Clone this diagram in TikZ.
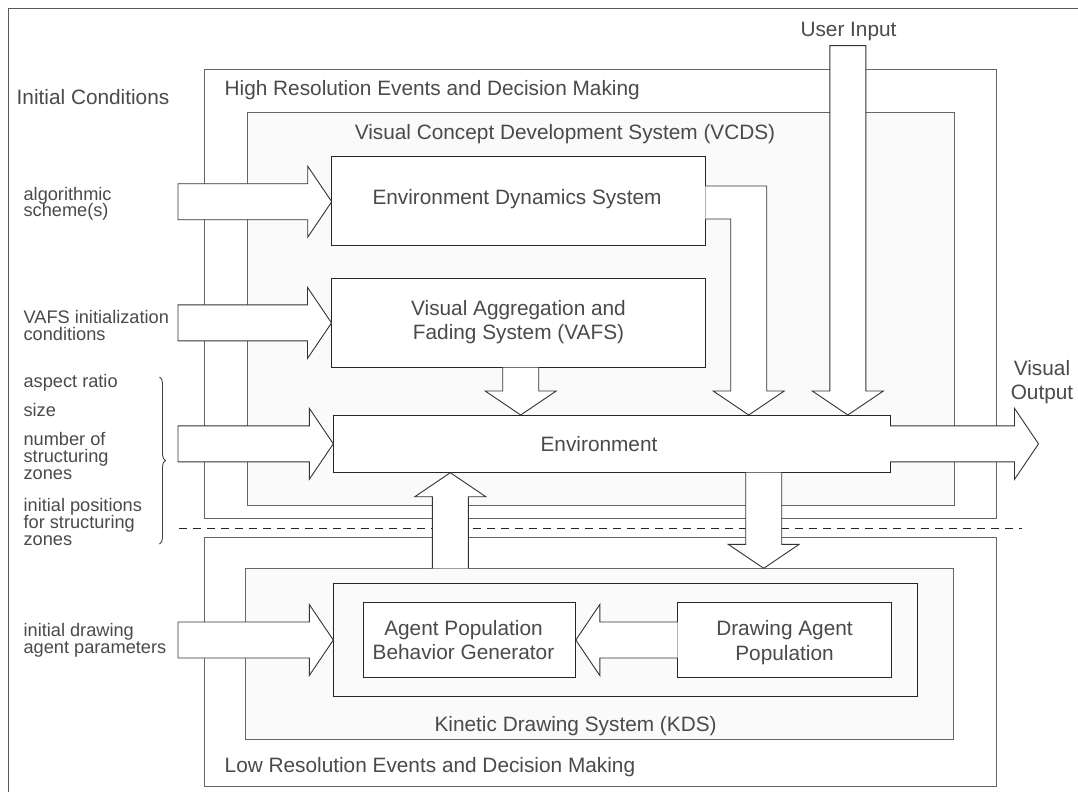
\documentclass[tikz,border=0pt]{standalone}
\usepackage{fontspec}
\setmainfont{Liberation Sans}
\usetikzlibrary{calc,decorations.pathreplacing}
\definecolor{panel}{HTML}{FAFAFA}
\definecolor{txt}{HTML}{4A4A4A}
\newcommand\arrR[3]{\filldraw[blk] let \p1=(#1), \p2=(#2) in (\x1,\y1+18pt) -- (\x2-24pt,\y1+18pt) -- (\x2-24pt,\y1+35.5pt) -- (\x2,\y1) -- (\x2-24pt,\y1-35.5pt) -- (\x2-24pt,\y1-18pt) -- (\x1,\y1-18pt) #3;}
\newcommand\arrL[2]{\filldraw[blk] let \p1=(#1), \p2=(#2) in (\x1,\y1+18pt) -- (\x2+24pt,\y1+18pt) -- (\x2+24pt,\y1+35.5pt) -- (\x2,\y1) -- (\x2+24pt,\y1-35.5pt) -- (\x2+24pt,\y1-18pt) -- (\x1,\y1-18pt);}
\newcommand\arrD[3]{\filldraw[blk] let \p1=(#1), \p2=(#2) in (\x1-18pt,\y1) -- (\x1-18pt,\y2+24pt) -- (\x1-35.5pt,\y2+24pt) -- (\x1,\y2) -- (\x1+35.5pt,\y2+24pt) -- (\x1+18pt,\y2+24pt) -- (\x1+18pt,\y1) #3;}
\newcommand\arrU[2]{\filldraw[blk] let \p1=(#1), \p2=(#2) in (\x1-18pt,\y1) -- (\x1-18pt,\y2-24pt) -- (\x1-35.5pt,\y2-24pt) -- (\x1,\y2) -- (\x1+35.5pt,\y2-24pt) -- (\x1+18pt,\y2-24pt) -- (\x1+18pt,\y1);}
\begin{document}
\begin{tikzpicture}[x=1pt,y=-1pt,
  cont/.style={draw=black!60, line width=1pt, anchor=north west, inner sep=0pt, outer sep=0pt},
  inbox/.style={draw=black!85, line width=1pt, fill=white, anchor=north west, inner sep=0pt, outer sep=0pt},
  blk/.style={draw=black!80, line width=0.9pt, fill=white, line join=miter},
  ttl/.style={font=\fontsize{20.8}{24}\selectfont, text=txt, inner sep=0pt, anchor=base},
  ttlw/.style={ttl, anchor=base west},
  lbl/.style={font=\fontsize{18.2}{17}\selectfont, text=txt, inner sep=0pt, anchor=base west},
  dashline/.style={draw=black!85, line width=0.9pt, dash pattern=on 8pt off 6pt}
]
\useasboundingbox (0,0) rectangle (1078,792);
\fill[white] (0,0) rectangle (1078,792);
% outer frame
\coordinate (fa) at (8,9);
\coordinate (fb) at (1078,9);
\coordinate (fc) at (8,792);
\draw[black!65, line width=1pt] (fb) -- (fa) -- (fc);
% containers
\node[cont, fill=white, minimum width=792pt, minimum height=449.3pt] (hires) at (204,69) {};
\node[cont, fill=white, minimum width=791.8pt, minimum height=248.5pt] (lores) at (204.2,537.5) {};
\node[cont, fill=panel, minimum width=706.3pt, minimum height=393.4pt] (vcds) at (247.7,112.3) {};
\node[cont, fill=panel, minimum width=707.5pt, minimum height=170.7pt] (kds) at (245.5,568.3) {};
% boxes
\node[inbox, minimum width=373.6pt, minimum height=89pt] (eds) at (331.7,156.7) {};
\node[inbox, minimum width=373.8pt, minimum height=89.2pt] (vafs) at (331.5,278.3) {};
\node[inbox, minimum width=556.7pt, minimum height=57.7pt] (env) at (333.3,415) {};
\node[inbox, fill=panel, minimum width=583.7pt, minimum height=113.4pt] (kdsin) at (333.3,583.3) {};
\node[inbox, minimum width=212.5pt, minimum height=75.4pt] (apbg) at (363.3,602.3) {};
\node[inbox, minimum width=213.5pt, minimum height=75.4pt] (dap) at (677.7,602.3) {};
% dashed separator
\coordinate (dl) at (179,528.3);
\coordinate (dr) at (1022,528.3);
\draw[dashline] (dl) -- (dr);
% input arrows from the left
\coordinate (inA) at (178,201.7);
\coordinate (inB) at (178,322.9);
\coordinate (inC) at (178,443.8);
\coordinate (inD) at (178,640);
\arrR{inA}{eds.west}{-- cycle}
\arrR{inB}{vafs.west}{-- cycle}
\arrR{inC}{env.west}{-- cycle}
\arrR{inD}{kdsin.west}{-- cycle}
% VAFS -> Environment
\arrD{$(vafs.south)+(2.3,0)$}{env.north}{}
% EDS -> Environment (elbow)
\coordinate (etip) at (748.7,415);
\filldraw[blk] let \p1=(eds.east), \p2=(etip) in (\x1,-186pt) -- (\x2+18pt,-186pt) -- (\x2+18pt,\y2+24pt) -- (\x2+35.5pt,\y2+24pt) -- (\x2,\y2) -- (\x2-35.5pt,\y2+24pt) -- (\x2-18pt,\y2+24pt) -- (\x2-18pt,-219pt) -- (\x1,-219pt);
% User input
\coordinate (uin) at (847.8,45.7);
\arrD{uin}{env.north}{-- cycle}
% KDS -> Environment
\arrU{$(kds.north west)+(204.8,0)$}{env.south}
% Environment -> KDS
\arrD{$(env.south west)+(430.4,0)$}{kds.north}{}
% Visual output
\coordinate (outtip) at (1038.5,443.8);
\arrR{env.east}{outtip}{}
% Drawing agent population -> behavior generator
\arrL{dap.west}{apbg.east}
% brace
\coordinate (bt) at (159.5,377);
\coordinate (bb) at (159.5,544);
\draw[black!75, line width=0.9pt, decorate, decoration={brace, amplitude=6pt}] (bt) -- (bb);
% titles
\node[ttlw] (tic) at (16.5,104) {Initial Conditions};
\node[ttlw] (thr) at (224.5,95) {High Resolution Events and Decision Making};
\node[ttl] (tvc) at (565,139) {Visual Concept Development System (VCDS)};
\node[ttl] (tui) at (848.5,37) {User Input};
\node[ttl] (teds) at (517,204.3) {Environment Dynamics System};
\node[ttl] (tva1) at (518.5,315) {Visual Aggregation and};
\node[ttl] (tva2) at (518.5,339.3) {Fading System (VAFS)};
\node[ttl] (tenv) at (599,451.7) {Environment};
\node[ttl] (tap1) at (463.5,635) {Agent Population};
\node[ttl] (tap2) at (463.5,659.3) {Behavior Generator};
\node[ttl] (tda1) at (784.5,635) {Drawing Agent};
\node[ttl] (tda2) at (784.5,660) {Population};
\node[ttl] (tkds) at (575.6,731.7) {Kinetic Drawing System (KDS)};
\node[ttlw] (tlr) at (224.5,772.7) {Low Resolution Events and Decision Making};
\node[ttl] (tvo1) at (1042,375) {Visual};
\node[ttl] (tvo2) at (1042,399.3) {Output};
% left labels
\node[lbl] (la1) at (23.4,200) {algorithmic};
\node[lbl] (la2) at (23.4,216.7) {scheme(s)};
\node[lbl] (lb1) at (23.4,323.3) {VAFS initialization};
\node[lbl] (lb2) at (23.4,340) {conditions};
\node[lbl] (lc1) at (23.4,387) {aspect ratio};
\node[lbl] (lc2) at (23.4,416) {size};
\node[lbl] (lc3) at (23.4,445) {number of};
\node[lbl] (lc4) at (23.4,462) {structuring};
\node[lbl] (lc5) at (23.4,479.3) {zones};
\node[lbl] (lc6) at (23.4,511) {initial positions};
\node[lbl] (lc7) at (23.4,528) {for structuring};
\node[lbl] (lc8) at (23.4,545) {zones};
\node[lbl] (ld1) at (23.4,636.7) {initial drawing};
\node[lbl] (ld2) at (23.4,653.3) {agent parameters};
\end{tikzpicture}
\end{document}
